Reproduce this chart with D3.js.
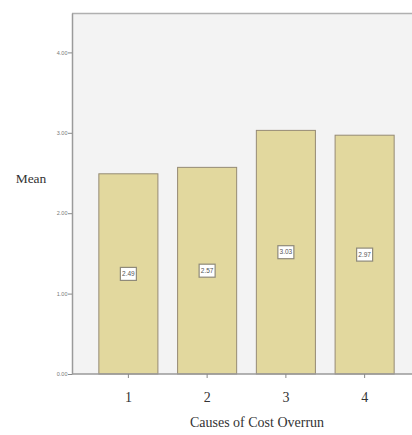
<!DOCTYPE html>
<html><head><meta charset="utf-8">
<script src="https://cdn.jsdelivr.net/npm/d3@7"></script>
<style>body{margin:0;background:#fff}svg{display:block}</style>
</head><body>
<svg id="c" width="412" height="435"></svg>
<script>
const categories = ["1","2","3","4"];
const means = [2.49, 2.57, 3.03, 2.97];
const meanLabels = ["2.49","2.57","3.03","2.97"];
const yTicks = [0,1,2,3,4];

const svg = d3.select("#c");
const L = 72, T = 13, R = 420, B = 374;
const x = d3.scaleBand().domain(categories).range([89, 404]).paddingInner(0.25).paddingOuter(0.125);
const y = d3.scaleLinear().domain([0, 4.49]).range([B, T]);

svg.append("rect").attr("x", L).attr("y", T).attr("width", R - L).attr("height", B - T)
  .attr("fill", "#f3f3f3");
svg.append("line").attr("x1", L).attr("x2", R).attr("y1", T + 0.5).attr("y2", T + 0.5)
  .attr("stroke", "#b0b0b0").attr("stroke-width", 1.5);

svg.selectAll("rect.bar").data(means).join("rect").attr("class", "bar")
  .attr("x", (d, i) => x(categories[i]))
  .attr("width", x.bandwidth())
  .attr("y", d => y(d))
  .attr("height", d => B - y(d))
  .attr("fill", "#e2d89e").attr("stroke", "#958a74").attr("stroke-width", 1);

const lab = svg.selectAll("g.lab").data(means).join("g").attr("class", "lab")
  .attr("transform", (d, i) => `translate(${x(categories[i]) + x.bandwidth() / 2},${y(d / 2)})`);
lab.append("rect").attr("x", -8).attr("y", -6.5).attr("width", 16).attr("height", 13)
  .attr("fill", "#ffffff").attr("stroke", "#8f8a7a").attr("stroke-width", 1.2);
lab.append("text").text((d, i) => meanLabels[i]).attr("text-anchor", "middle").attr("dy", "0.35em")
  .attr("font-family", "Liberation Sans, Arial, sans-serif").attr("font-size", 6.5).attr("fill", "#555");

const yAxis = svg.append("g").attr("transform", `translate(${L},0)`)
  .call(d3.axisLeft(y).tickValues(yTicks).tickFormat(d3.format(".2f")).tickSize(4).tickSizeOuter(0));
yAxis.select(".domain").attr("stroke", "#9a9a9a").attr("stroke-width", 1.5);
yAxis.selectAll(".tick line").attr("stroke", "#888");
yAxis.selectAll(".tick text").attr("font-family", "Liberation Sans, Arial, sans-serif")
  .attr("font-size", 5.5).attr("fill", "#777").attr("x", -4.5);

const xAxis = svg.append("g").attr("transform", `translate(0,${B})`)
  .call(d3.axisBottom(x).tickSize(4).tickSizeOuter(0));
xAxis.select(".domain").attr("stroke", "#9a9a9a").attr("stroke-width", 1.5)
  .attr("d", `M${L},0H${R}`);
xAxis.selectAll(".tick line").attr("stroke", "#888");
xAxis.selectAll(".tick text").attr("font-family", "Liberation Serif, Times New Roman, serif")
  .attr("font-size", 14).attr("fill", "#333").attr("y", 18);

svg.append("text").text("Mean").attr("x", 31).attr("y", 183).attr("text-anchor", "middle")
  .attr("font-family", "Liberation Serif, Times New Roman, serif").attr("font-size", 13.5).attr("fill", "#333");
svg.append("text").text("Causes of Cost Overrun").attr("x", 257).attr("y", 427).attr("text-anchor", "middle")
  .attr("font-family", "Liberation Serif, Times New Roman, serif").attr("font-size", 14).attr("fill", "#333");
</script>
</body></html>
